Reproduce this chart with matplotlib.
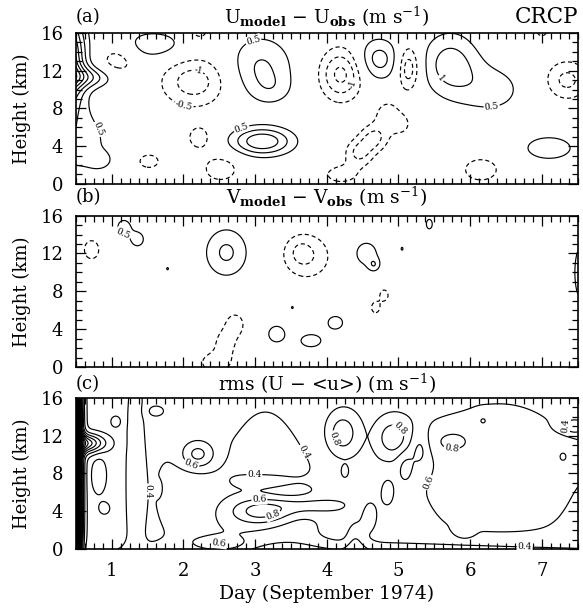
import numpy as np
import matplotlib
matplotlib.use('Agg')
import matplotlib.pyplot as plt
from matplotlib.ticker import MultipleLocator

# ---------------- data: contour features ----------------
# each feature: centre day, centre height (km), amplitude (m/s), spread in day, spread in km
# (a) U_model - U_obs
a_day = [0.30, 0.60, 0.55, 0.85, 1.08, 1.57, 2.22, 2.15, 3.08, 3.25, 2.22, 1.52, 3.10, 2.52,
         4.20, 4.72, 5.14, 5.72, 6.30, 7.00, 7.35, 7.10, 4.20, 4.45, 4.65, 4.85, 5.05, 6.15]
a_hgt = [13.0, 11.3, 4.5, 2.5, 13.0, 14.7, 16.2, 10.8, 12.4, 10.0, 4.9, 2.4, 4.5, 1.6,
         11.6, 13.2, 12.3, 12.7, 10.0, 16.2, 11.0, 3.8, 1.0, 3.3, 4.8, 7.2, 6.3, 1.5]
a_amp = [4.2, 1.4, 0.8, 0.5, -0.85, 0.85, -0.75, -1.28, 1.05, 0.4, -0.75, -0.75, 1.95, -0.75,
         -1.67, 1.23, -1.5, 1.25, 0.72, -0.7, -1.15, 0.9, -0.7, -1.1, -1.1, -0.75, -0.55, -0.8]
a_sdd = [0.20, 0.33, 0.30, 0.12, 0.20, 0.36, 0.12, 0.33, 0.32, 0.20, 0.14, 0.14, 0.30, 0.22,
         0.21, 0.21, 0.11, 0.28, 0.35, 0.08, 0.22, 0.27, 0.22, 0.14, 0.14, 0.15, 0.10, 0.22]
a_sdh = [3.5, 0.8, 2.5, 0.7, 1.5, 1.2, 0.8, 1.9, 2.4, 1.2, 1.05, 0.72, 1.05, 1.25,
         1.93, 1.6, 1.7, 2.4, 2.0, 0.6, 1.5, 1.0, 0.9, 1.0, 1.0, 1.4, 0.8, 1.1]

# (b) V_model - V_obs
b_day = [1.17, 1.36, 0.72, 1.78, 2.60, 3.72, 3.62, 4.55, 4.66, 5.05, 5.43, 3.52, 4.68, 4.80,
         7.55, 2.58, 2.72, 2.45, 3.30, 3.78, 4.12]
b_hgt = [14.8, 13.5, 12.4, 10.4, 12.1, 11.7, 12.3, 12.0, 10.8, 12.5, 15.1, 6.3, 6.3, 7.6,
         10.0, 2.6, 4.5, 0.5, 3.5, 2.8, 4.7]
b_amp = [0.75, 0.75, -0.75, 0.6, 1.1, -1.0, -0.35, 0.75, 0.7, 0.6, 0.75, 0.6, -0.75, -0.75,
         0.75, -0.75, -0.75, -0.75, 0.75, 0.75, 0.75]
b_sdd = [0.09, 0.09, 0.11, 0.02, 0.22, 0.25, 0.12, 0.15, 0.06, 0.02, 0.045, 0.02, 0.06, 0.06,
         0.10, 0.11, 0.12, 0.20, 0.12, 0.15, 0.11]
b_sdh = [0.75, 0.75, 1.05, 0.2, 1.9, 1.8, 1.0, 1.2, 0.5, 0.25, 0.55, 0.2, 0.6, 0.6,
         3.0, 1.0, 1.1, 1.0, 0.9, 0.7, 0.72]

# (c) rms (U - <u>), background value plus features
c_base = 0.5
c_day = [0.33, 0.60, 0.82, 0.90, 1.06, 1.33, 1.62, 1.65, 2.08, 2.20, 3.15, 3.60, 3.10, 3.70,
         3.22, 4.22, 4.92, 5.75, 6.40, 4.25, 4.40, 4.60, 4.85, 5.10, 5.30, 4.90, 7.45, 7.30,
         6.18, 5.92, 7.07, 2.50]
c_hgt = [8.0, 11.2, 7.8, 4.3, 13.5, 8.0, 14.6, 6.4, 5.8, 10.0, 7.0, 4.0, 4.0, 4.6,
         7.2, 12.3, 11.8, 11.4, 8.0, 8.2, 1.0, 3.5, 6.0, 8.5, 10.5, -0.5, 13.0, 9.8,
         13.6, 1.9, 3.8, 0.5]
c_amp = [25.0, 1.1, -0.25, -0.2, 0.2, -0.25, 0.2, 0.18, -0.22, 0.5, -0.2, -0.15, 0.6, 0.3,
         0.2, 0.42, 0.4, 0.25, 0.14, 0.15, -0.25, -0.25, -0.25, -0.25, -0.25, -0.35, -0.35, 0.2,
         0.2, 0.2, 0.15, 0.3]
c_sdd = [0.10, 0.20, 0.08, 0.06, 0.06, 0.09, 0.10, 0.03, 0.37, 0.17, 0.40, 0.30, 0.30, 0.35,
         0.35, 0.15, 0.15, 0.22, 1.30, 0.04, 0.09, 0.09, 0.09, 0.09, 0.09, 2.50, 0.12, 0.14,
         0.07, 0.08, 0.05, 0.25]
c_sdh = [12.0, 0.7, 1.5, 0.5, 0.5, 9.0, 0.5, 0.5, 4.4, 1.1, 6.5, 4.0, 1.0, 0.7,
         0.7, 1.5, 1.3, 1.0, 9.0, 0.5, 1.4, 1.4, 1.4, 1.4, 1.4, 0.9, 0.6, 1.3,
         0.5, 0.5, 0.25, 0.5]

levels_ab = [-3, -2.5, -2, -1.5, -1, -0.5, 0.5, 1, 1.5, 2, 2.5, 3, 3.5, 4]
levels_c = [round(0.2 * k, 1) for k in range(1, 41)]

# ---------------- build fields ----------------
days = np.linspace(0.5, 7.5, 701)
hgts = np.linspace(0, 16, 321)
D, H = np.meshgrid(days, hgts)


def field(dd, hh, aa, sd, sh, base=0.0):
    z = np.full(D.shape, base, dtype=float)
    for d0, h0, a0, s0, t0 in zip(dd, hh, aa, sd, sh):
        z += a0 * np.exp(-0.5 * ((D - d0) / s0) ** 2 - 0.5 * ((H - h0) / t0) ** 2)
    return z


za = field(a_day, a_hgt, a_amp, a_sdd, a_sdh)
zb = field(b_day, b_hgt, b_amp, b_sdd, b_sdh)
zc = field(c_day, c_hgt, c_amp, c_sdd, c_sdh, c_base)

# ---------------- style ----------------
plt.rcParams['font.family'] = ['DejaVu Serif']
plt.rcParams['mathtext.fontset'] = 'dejavuserif'
plt.rcParams['lines.dashed_pattern'] = [3.5, 2.5]

fig = plt.figure(figsize=(5.83, 6.09), dpi=100)
rects = [[0.130, 0.698, 0.861, 0.248],
         [0.130, 0.397, 0.861, 0.249],
         [0.130, 0.0985, 0.861, 0.248]]
axes = [fig.add_axes(r) for r in rects]


def style(ax):
    ax.set_xlim(0.5, 7.5)
    ax.set_ylim(0, 16)
    ax.set_yticks([0, 4, 8, 12, 16])
    ax.set_xticks(range(1, 8))
    ax.xaxis.set_minor_locator(MultipleLocator(0.125))
    ax.yaxis.set_minor_locator(MultipleLocator(1))
    ax.tick_params(which='both', direction='in', top=True, right=True, width=0.9)
    ax.tick_params(which='major', length=7, labelsize=13)
    ax.tick_params(which='minor', length=4)
    ax.tick_params(axis='y', which='major', pad=9)
    ax.tick_params(axis='x', which='major', pad=9)
    for s in ax.spines.values():
        s.set_linewidth(1.2)
    ax.set_ylabel('Height (km)', fontsize=13, labelpad=7)


def draw(ax, z, levels):
    ls = ['dashed' if v < 0 else 'solid' for v in levels]
    return ax.contour(D, H, z, levels=levels, colors='black', linewidths=0.85, linestyles=ls)


def label(ax, cs, spots):
    fig.canvas.draw()
    trans = ax.transData
    for (x, y, lv) in spots:
        idx = int(np.argmin(np.abs(np.asarray(cs.levels) - lv)))
        segs = cs.allsegs[idx]
        best = None
        for seg in segs:
            if len(seg) < 3:
                continue
            pd = trans.transform(seg)
            p0 = trans.transform((x, y))
            dist = np.hypot(pd[:, 0] - p0[0], pd[:, 1] - p0[1])
            i = int(np.argmin(dist))
            if best is None or dist[i] < best[0]:
                best = (dist[i], pd, i, seg)
        if best is None:
            continue
        _, pd, i, seg = best
        j0, j1 = max(i - 4, 0), min(i + 4, len(pd) - 1)
        dx, dy = pd[j1] - pd[j0]
        ang = np.degrees(np.arctan2(dy, dx))
        if ang > 90:
            ang -= 180
        if ang < -90:
            ang += 180
        ax.text(seg[i, 0], seg[i, 1], f'{lv:g}', rotation=ang, rotation_mode='anchor',
                ha='center', va='center', fontsize=6.5, zorder=5,
                bbox=dict(fc='white', ec='none', pad=0.6))


# panel a
ax = axes[0]
style(ax)
cs = draw(ax, za, levels_ab)
label(ax, cs, [(0.68, 5.4, 0.5), (2.21, 11.9, -1), (2.02, 8.5, -0.5), (3.0, 14.6, 0.5),
               (2.81, 5.9, 0.5), (4.32, 10.7, -1), (5.62, 11.4, 1), (6.3, 8.0, 0.5)])
ax.set_xticklabels([])
ax.text(0.0, 1.105, '(a)', transform=ax.transAxes, ha='left', va='center', fontsize=13)
ax.text(0.5, 1.105, r'U$_{\mathbf{model}}$ $-$ U$_{\mathbf{obs}}$ (m s$^{-1}$)', transform=ax.transAxes,
        ha='center', va='center', fontsize=13.5)
ax.text(1.0, 1.105, 'CRCP', transform=ax.transAxes, ha='right', va='center', fontsize=15.5)

# panel b
ax = axes[1]
style(ax)
cs = draw(ax, zb, levels_ab)
label(ax, cs, [(1.15, 13.9, 0.5)])
ax.set_xticklabels([])
ax.text(0.0, 1.12, '(b)', transform=ax.transAxes, ha='left', va='center', fontsize=13)
ax.text(0.5, 1.12, r'V$_{\mathbf{model}}$ $-$ V$_{\mathbf{obs}}$ (m s$^{-1}$)', transform=ax.transAxes,
        ha='center', va='center', fontsize=13.5)

# panel c
ax = axes[2]
style(ax)
cs = draw(ax, zc, levels_c)
label(ax, cs, [(1.42, 6.1, 0.4), (2.11, 8.9, 0.6), (2.99, 7.9, 0.4), (3.6, 10.0, 0.4),
               (3.06, 5.7, 0.6), (3.25, 3.6, 0.8), (4.11, 11.7, 0.8), (5.06, 13.1, 0.8),
               (5.27, 7.5, 0.6), (5.74, 10.5, 0.8), (7.2, 13.3, 0.4), (6.76, 1.1, 0.4),
               (2.5, 0.96, 0.6)])
ax.set_xlabel('Day (September 1974)', fontsize=13.5, labelpad=4)
ax.text(0.0, 1.093, '(c)', transform=ax.transAxes, ha='left', va='center', fontsize=13)
ax.text(0.5, 1.093, r'rms (U $-$ <u>) (m s$^{-1}$)', transform=ax.transAxes,
        ha='center', va='center', fontsize=13.5)

fig.savefig('out.png', dpi=100)
